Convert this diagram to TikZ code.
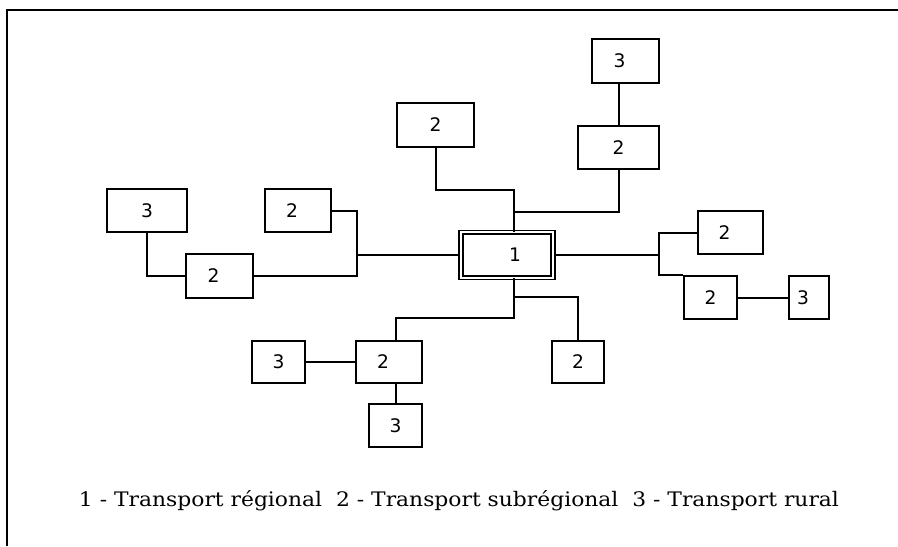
\documentclass[tikz,border=0pt]{standalone}
\usepackage{fontspec}
\setmainfont{DejaVu Serif}
\newfontfamily\numfont{DejaVu Sans}
\usetikzlibrary{calc}
\newcommand\lft[1]{#1\kern9pt}
\begin{document}
\begin{tikzpicture}[x=0.75pt,y=-0.75pt,
  box/.style={draw,line width=1.5pt,inner sep=0pt,font=\numfont\fontsize{14pt}{16pt}\selectfont},
  mainbox/.style={draw,double=white,double distance=1.6pt,line width=1.2pt,inner sep=0pt,font=\numfont\fontsize{14pt}{16pt}\selectfont},
  link/.style={line width=1.5pt},
  frame/.style={line width=2.1pt}]
\useasboundingbox (0,0) rectangle (898,546);
% frame
\draw[frame] (7,546) -- (7,10) -- (898,10);
% central
\node[mainbox,minimum width=69pt,minimum height=34pt] (c1) at (507,255) {\kern12pt 1};
% top
\node[box,minimum width=50pt,minimum height=33pt] (t3) at (625.5,61) {\lft{3}};
\node[box,minimum width=61pt,minimum height=32pt] (t2) at (618.5,147.5) {2};
\node[box,minimum width=58pt,minimum height=33pt] (u2) at (435.5,125) {2};
% left
\node[box,minimum width=60pt,minimum height=32pt] (l3) at (147,210.5) {3};
\node[box,minimum width=50pt,minimum height=32pt] (l2a) at (298,210.5) {\lft{2}};
\node[box,minimum width=50pt,minimum height=33pt] (l2b) at (219.5,276) {\lft{2}};
% right
\node[box,minimum width=49pt,minimum height=32pt] (r2a) at (730.5,232.5) {\lft{2}};
\node[box,minimum width=40pt,minimum height=32pt] (r2b) at (710.5,297.5) {2};
\node[box,minimum width=30pt,minimum height=32pt] (r3) at (809,297.5) {\lft{3}};
% bottom
\node[box,minimum width=40pt,minimum height=32pt] (bl3) at (278.5,362) {3};
\node[box,minimum width=50pt,minimum height=32pt] (bm2) at (389,362) {\lft{2}};
\node[box,minimum width=40pt,minimum height=32pt] (bb3) at (395.5,425.5) {3};
\node[box,minimum width=39pt,minimum height=32pt] (br2) at (578,362) {2};
% junctions
\coordinate (a1) at (514,190);
\coordinate (a2) at (514,212);
\coordinate (lj) at (357,255);
\coordinate (rj) at (659,255);
\coordinate (bj1) at (514,297);
\coordinate (bj2) at (514,318);
% connectors top
\draw[link] (t2.north) -- (t2.north |- t3.south);
\draw[link] (u2.south) |- (a1) -- (c1.north -| a1);
\draw[link] (t2.south) |- (a2);
% left
\draw[link] (l3.south) |- (l2b.west);
\draw[link] (l2b.east) -| (lj) |- (l2a.east);
\draw[link] (lj) -- (c1.west |- lj);
% right
\draw[link] (c1.east |- rj) -- (rj);
\draw[link] (r2a.west) -| (rj) |- (r2b.north west);
\draw[link] (r2b.east) -- (r3.west);
% bottom
\draw[link] (c1.south -| bj1) -- (bj2) -| (bm2.north -| bb3.north);
\draw[link] (bj1) -| (br2.north);
\draw[link] (bl3.east) -- (bm2.west);
\draw[link] (bm2.south -| bb3.north) -- (bb3.north);
% caption
\node[anchor=base,inner sep=0pt,font=\fontsize{15pt}{18pt}\selectfont] (cap) at (459,506)
  {\resizebox{570pt}{\height}{1 - Transport régional\ \ 2 - Transport subrégional\ \ 3 - Transport rural}};
\end{tikzpicture}
\end{document}
